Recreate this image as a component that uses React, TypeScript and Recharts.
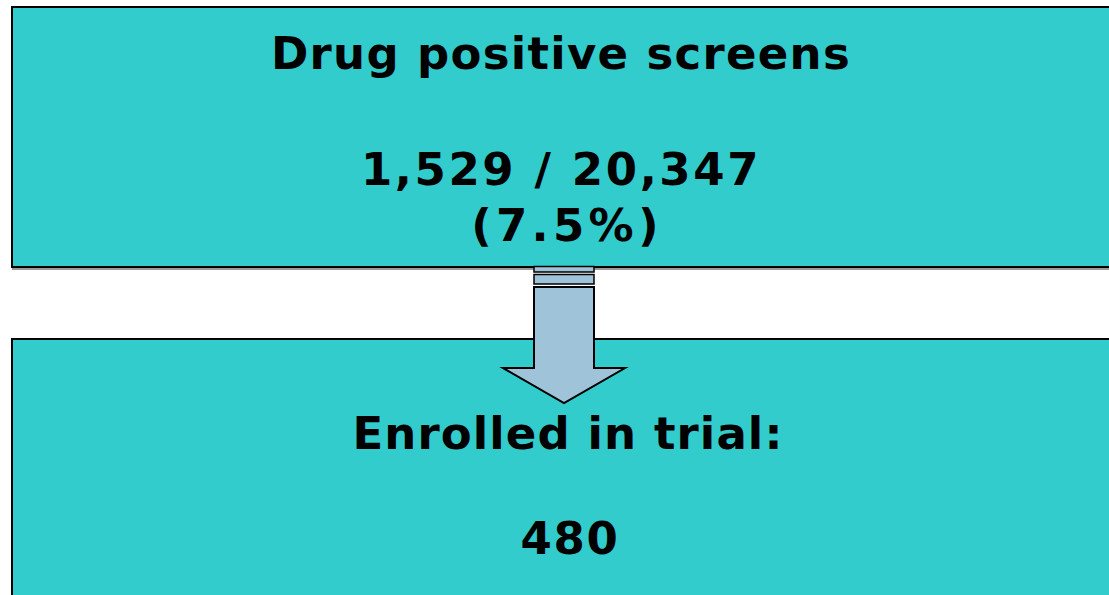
import React from "react";
import { ComposedChart, XAxis, YAxis, ReferenceArea, Scatter } from "recharts";

// ---- data ----
const boxTitles = ["Drug positive screens", "Enrolled in trial:"];
const positiveScreens = 1529;
const totalScreens = 20347;
const enrolled = 480;

const fmt = (n: number) => n.toLocaleString("en-US");
const pct = ((positiveScreens / totalScreens) * 100).toFixed(1);

const textLines = [
  { x: 561, y: 69, text: boxTitles[0] },
  { x: 561, y: 185, text: `${fmt(positiveScreens)} / ${fmt(totalScreens)}` },
  { x: 567, y: 241, text: `(${pct}%)` },
  { x: 568, y: 449, text: boxTitles[1] },
  { x: 570, y: 554, text: `${enrolled}` },
];
// per-line letter spacing (style, kept apart from data)
const lineSpacing = [1.3, 2.6, 4.3, 1.1, 1.7];

// ---- layout (chart coordinate space = pixel space) ----
const W = 1109;
const H = 595;
const TEAL = "#33CCCC";
const ARROW = "#9FC3D8";

const boxes = [
  { x1: 12, x2: 1130, y1: 7, y2: 267 },
  { x1: 12, x2: 1130, y1: 339, y2: 620 },
];
const arrowPieces = [
  { x1: 534, x2: 594, y1: 266.5, y2: 272 },
  { x1: 534, x2: 594, y1: 274.5, y2: 284 },
];
const arrowMain = { x1: 534, x2: 594, y1: 287, y2: 403, headStart: 368, wing: 31 };

const ArrowShape = (props: any) => {
  const { x, y, width, height } = props;
  const hs = y + (arrowMain.headStart - arrowMain.y1);
  const w = arrowMain.wing;
  const pts = [
    [x, y],
    [x + width, y],
    [x + width, hs],
    [x + width + w, hs],
    [x + width / 2, y + height],
    [x - w, hs],
    [x, hs],
  ]
    .map((p) => p.join(","))
    .join(" ");
  return <polygon points={pts} fill={ARROW} stroke="#000" strokeWidth={2} strokeLinejoin="miter" />;
};

const TextShape = (props: any) => {
  const { cx, cy, payload, index } = props;
  const idx = typeof index === "number" ? index : textLines.findIndex((t) => t.text === payload.text);
  return (
    <text
      x={cx}
      y={cy}
      textAnchor="middle"
      fontFamily="DejaVu Sans, Verdana, sans-serif"
      fontWeight="bold"
      fontSize={45}
      letterSpacing={lineSpacing[idx] ?? 1}
      fill="#000"
    >
      {payload.text}
    </text>
  );
};

export default function App() {
  return (
    <div style={{ position: "absolute", left: 0, top: 0, width: W, height: H, background: "#fff" }}>
      <ComposedChart width={W} height={H} margin={{ top: 0, right: 0, bottom: 0, left: 0 }} data={textLines}>
        <XAxis type="number" dataKey="x" domain={[0, W]} hide allowDataOverflow />
        <YAxis type="number" dataKey="y" domain={[0, H]} reversed hide allowDataOverflow />
        {/* shadow under first box */}
        <ReferenceArea x1={12} x2={1130} y1={267} y2={270} fill="#999" fillOpacity={1} stroke="none" ifOverflow="visible" />
        {boxes.map((b, i) => (
          <ReferenceArea
            key={i}
            x1={b.x1}
            x2={b.x2}
            y1={b.y1}
            y2={b.y2}
            fill={TEAL}
            fillOpacity={1}
            stroke="#000"
            strokeWidth={2}
            ifOverflow="visible"
          />
        ))}
        {arrowPieces.map((b, i) => (
          <ReferenceArea
            key={"p" + i}
            x1={b.x1}
            x2={b.x2}
            y1={b.y1}
            y2={b.y2}
            fill={ARROW}
            fillOpacity={1}
            stroke="#000"
            strokeWidth={1.5}
            ifOverflow="visible"
          />
        ))}
        <ReferenceArea
          x1={arrowMain.x1}
          x2={arrowMain.x2}
          y1={arrowMain.y1}
          y2={arrowMain.y2}
          ifOverflow="visible"
          shape={ArrowShape}
        />
        <Scatter dataKey="y" data={textLines} shape={TextShape} isAnimationActive={false} />
      </ComposedChart>
    </div>
  );
}
